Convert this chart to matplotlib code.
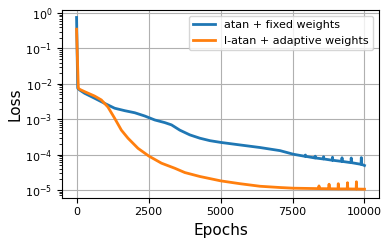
import numpy as np
import matplotlib
matplotlib.use("Agg")
import matplotlib.pyplot as plt

# atan + fixed weights (spikes near the end included)
epochs_fixed = [0, 40, 104, 279, 627, 975, 1323, 1671, 2020, 2368, 2716, 3064, 3297, 3586,
                3760, 3934, 4282, 4631, 5014, 5676, 6372, 7068, 7531,
                7940, 7950, 7960, 8280, 8290, 8300, 8570, 8580, 8590, 8880, 8890, 8900,
                9210, 9220, 9230, 9530, 9540, 9550, 9880, 9890, 9900, 10000]
loss_fixed = [0.75, 0.0075, 0.0067, 0.0054, 0.0039, 0.0028, 0.00204, 0.00174, 0.00152, 0.00123,
              0.00095, 0.0008, 0.00069, 0.00049, 0.00042, 0.00036, 0.00029, 0.000247, 0.00022,
              0.000187, 0.000158, 0.000129, 0.000102,
              8.9e-5, 9.7e-5, 8.9e-5, 8.0e-5, 9.0e-5, 8.0e-5, 7.5e-5, 8.7e-5, 7.5e-5,
              6.9e-5, 8.4e-5, 6.9e-5, 6.4e-5, 8.1e-5, 6.4e-5, 5.9e-5, 8.0e-5, 5.9e-5,
              5.3e-5, 8.2e-5, 5.3e-5, 4.9e-5]

# l-atan + adaptive weights
epochs_adapt = [0, 60, 104, 279, 627, 860, 1090, 1323, 1556, 1786, 2134, 2507, 2949, 3412,
                3760, 4282, 5014, 5676, 6372, 7068, 7531, 8113,
                8410, 8420, 8430, 8760, 8770, 8780, 9080, 9090, 9100, 9400, 9410, 9420,
                9710, 9720, 9730, 10000]
loss_adapt = [0.35, 0.0076, 0.007, 0.006, 0.0045, 0.0035, 0.0022, 0.00106, 0.00049, 0.00029,
              0.00015, 9.1e-5, 5.7e-5, 4.1e-5, 3.1e-5, 2.4e-5, 1.8e-5, 1.5e-5, 1.27e-5, 1.17e-5,
              1.12e-5, 1.1e-5,
              1.09e-5, 1.3e-5, 1.09e-5, 1.08e-5, 1.45e-5, 1.08e-5, 1.07e-5, 1.5e-5, 1.07e-5,
              1.07e-5, 1.6e-5, 1.07e-5, 1.06e-5, 1.7e-5, 1.06e-5, 1.05e-5]

fig, ax = plt.subplots(figsize=(3.91, 2.45), dpi=100)
fig.subplots_adjust(left=0.159, right=0.969, bottom=0.193, top=0.959)

ax.plot(epochs_fixed, loss_fixed, color="#1f77b4", lw=2, label="atan + fixed weights")
ax.plot(epochs_adapt, loss_adapt, color="#ff7f0e", lw=2, label="l-atan + adaptive weights")
ax.set_yscale("log")
ax.set_ylim(10**-5.22, 10**0.085)
ax.set_xticks([0, 2500, 5000, 7500, 10000])
ax.tick_params(labelsize=8)
ax.set_xlabel("Epochs", fontsize=11)
ax.set_ylabel("Loss", fontsize=11, labelpad=2)
ax.grid(True)
ax.legend(loc="upper right", fontsize=8)

plt.savefig("out.png", dpi=100)
